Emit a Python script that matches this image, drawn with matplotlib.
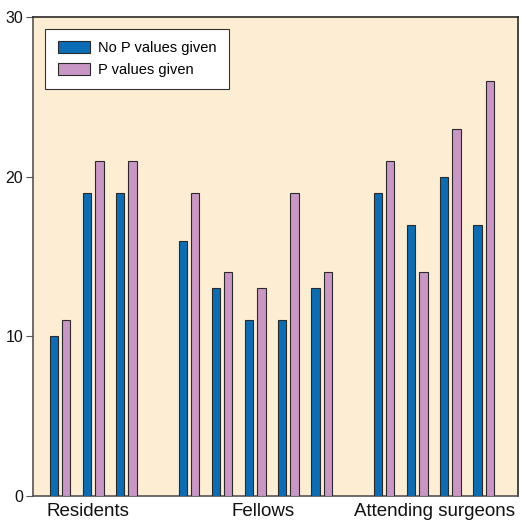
import matplotlib
matplotlib.use("Agg")
import matplotlib.pyplot as plt
import numpy as np

plt.rcParams["font.family"] = ["Liberation Sans", "DejaVu Sans"]

# ── Palette ─────────────────────────────────────────────
PEACH = "#fdeed3"
BLUE = "#0a6db5"
PINK = "#c996c6"
EDGE = "#2a2a2a"
TEXT = "#111111"

# ── Data ────────────────────────────────────────────────
groups = ["Residents", "Fellows", "Attending surgeons"]
group_sizes = [3, 5, 4]
no_p = [10, 19, 19, 16, 13, 11, 11, 13, 19, 17, 20, 17]
with_p = [11, 21, 21, 19, 14, 13, 19, 14, 21, 14, 23, 26]
series_labels = ["No P values given", "P values given"]
y_ticks = [0, 10, 20, 30]

# slot positions with a gap between groups
group_gap = 1.88
slots = []
start = 0.0
for n in group_sizes:
    slots.extend(start + np.arange(n))
    start += n - 1 + group_gap
slots = np.array(slots)
group_centers = [1.02, 6.3, 11.48]

width = 0.25
offset = 0.37

fig = plt.figure(figsize=(5.21, 5.25), dpi=100, facecolor="white")
ax = fig.add_axes([0.0633, 0.0552, 0.9309, 0.9124])
ax.set_facecolor(PEACH)

ax.bar(slots, no_p, width=width, color=BLUE, edgecolor=EDGE, linewidth=0.8,
       label=series_labels[0], zorder=3)
ax.bar(slots + offset, with_p, width=width, color=PINK, edgecolor=EDGE,
       linewidth=0.8, label=series_labels[1], zorder=3)

ax.set_xlim(-0.63, 13.98)
ax.set_ylim(0, 30)
ax.set_yticks(y_ticks)
ax.set_yticklabels([str(t) for t in y_ticks], fontsize=11.5, color=TEXT)
ax.tick_params(axis="y", direction="out", length=5, width=0.8, pad=2,
               color="#555555")
ax.set_xticks(group_centers)
ax.set_xticklabels(groups, fontsize=13.5, color=TEXT)
ax.tick_params(axis="x", length=0, pad=5)

for s in ax.spines.values():
    s.set_color(EDGE)
    s.set_linewidth(1.2)
ax.spines["left"].set_color("#555555")
ax.spines["bottom"].set_color("#555555")

leg = ax.legend(loc="upper left", bbox_to_anchor=(0.025, 0.975),
                borderaxespad=0, fontsize=10.5, frameon=True, fancybox=False,
                framealpha=1, borderpad=0.85, handlelength=2.2,
                handleheight=0.9, handletextpad=0.6, labelspacing=0.5)
leg.get_frame().set_edgecolor("#333333")
leg.get_frame().set_linewidth(0.8)

fig.savefig("out.png", dpi=100, facecolor="white")
